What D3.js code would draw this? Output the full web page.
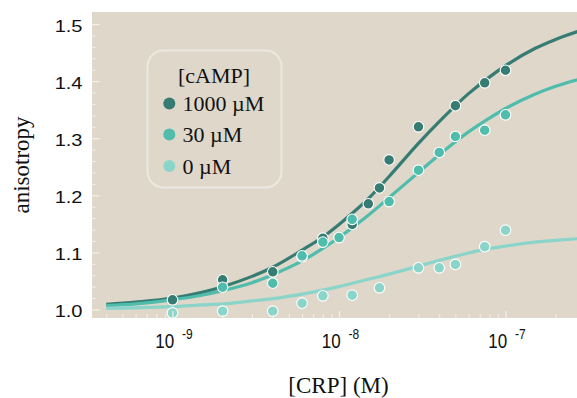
<!DOCTYPE html>
<html><head><meta charset="utf-8">
<script src="https://cdn.jsdelivr.net/npm/d3@7/dist/d3.min.js"></script>
<style>html,body{margin:0;padding:0;background:#fff;}svg{display:block;}
.sans{font-family:'Liberation Sans',Arial,sans-serif;}
.serif{font-family:'Liberation Serif','Times New Roman',serif;}
</style>
</head><body>
<script>
// ---- data ----
const seriesNames = ["1000 \u00b5M", "30 \u00b5M", "0 \u00b5M"];
const legendTitle = "[cAMP]";
const xTitle = "[CRP] (M)";
const yTitle = "anisotropy";
const xMajorTicks = [1e-9, 1e-8, 1e-7];
const xTickExponents = ["-9", "-8", "-7"];
const yTicks = [1.0, 1.1, 1.2, 1.3, 1.4, 1.5];
const yTickLabels = ["1.0", "1.1", "1.2", "1.3", "1.4", "1.5"];

const conc1000 = [1e-9, 2e-9, 4e-9, 6e-9, 8e-9, 1.2e-8, 1.5e-8, 1.75e-8, 2e-8, 3e-8, 5e-8, 7.5e-8, 1e-7];
const val1000  = [1.017, 1.052, 1.066, 1.092, 1.125, 1.149, 1.185, 1.213, 1.262, 1.320, 1.357, 1.397, 1.419];
const conc30   = [2e-9, 4e-9, 6e-9, 8e-9, 1e-8, 1.2e-8, 2e-8, 3e-8, 4e-8, 5e-8, 7.5e-8, 1e-7];
const val30    = [1.039, 1.046, 1.094, 1.118, 1.126, 1.158, 1.189, 1.244, 1.275, 1.303, 1.314, 1.341];
const conc0    = [1e-9, 2e-9, 4e-9, 6e-9, 8e-9, 1.2e-8, 1.75e-8, 3e-8, 4e-8, 5e-8, 7.5e-8, 1e-7];
const val0     = [0.994, 0.997, 0.997, 1.011, 1.024, 1.025, 1.038, 1.073, 1.073, 1.079, 1.110, 1.139];

// fitted curves
const fitConc = [4e-10, 6e-10, 1e-9, 1.5e-9, 2e-9, 3e-9, 4e-9, 6e-9, 8e-9, 1e-8, 1.5e-8, 2e-8, 3e-8, 4e-8, 6e-8, 8e-8, 1e-7, 1.5e-7, 2e-7, 3e-7];
const fit1000 = [1.009, 1.013, 1.020, 1.030, 1.040, 1.058, 1.074, 1.104, 1.127, 1.149, 1.194, 1.233, 1.291, 1.329, 1.378, 1.407, 1.427, 1.457, 1.473, 1.491];
const fit30   = [1.007, 1.010, 1.017, 1.025, 1.033, 1.047, 1.061, 1.085, 1.107, 1.126, 1.165, 1.196, 1.240, 1.271, 1.311, 1.335, 1.352, 1.377, 1.391, 1.406];
const fit0    = [1.002, 1.003, 1.005, 1.008, 1.010, 1.015, 1.019, 1.027, 1.034, 1.040, 1.053, 1.062, 1.076, 1.086, 1.099, 1.107, 1.111, 1.118, 1.121, 1.125];

const colors = ["#367c72", "#4fbcac", "#8ad4c9"];

// ---- layout ----
const W = 577, H = 398;
const P = {left: 92, right: 577, top: 12, bottom: 318};
const svg = d3.select("body").append("svg").attr("width", W).attr("height", H);
svg.append("rect").attr("width", W).attr("height", H).attr("fill", "#fff");

const x = d3.scaleLog().domain([1e-9, 1e-7]).range([172.5, 505.5]);
const y = d3.scaleLinear().domain([1.0, 1.5]).range([309.5, 24]);

svg.append("rect").attr("x", P.left).attr("y", P.top)
  .attr("width", P.right - P.left).attr("height", P.bottom - P.top).attr("fill", "#dfd8ca");

svg.append("defs").append("clipPath").attr("id", "clip")
  .append("rect").attr("x", P.left).attr("y", P.top)
  .attr("width", P.right - P.left).attr("height", P.bottom - P.top);

const curves = [
  {c: fitConc, v: fit1000, col: colors[0]},
  {c: fitConc, v: fit30, col: colors[1]},
  {c: fitConc, v: fit0, col: colors[2]}
];
const line = d3.line().curve(d3.curveMonotoneX).x(d => x(d[0])).y(d => y(d[1]));
const gl = svg.append("g").attr("clip-path", "url(#clip)");
curves.forEach(s => {
  gl.append("path").datum(s.c.map((c, i) => [c, s.v[i]]))
    .attr("d", line).attr("fill", "none").attr("stroke", s.col)
    .attr("stroke-width", 3.2).attr("stroke-linecap", "butt");
});

const pts = [
  {c: conc1000, v: val1000, col: colors[0]},
  {c: conc30, v: val30, col: colors[1]},
  {c: conc0, v: val0, col: colors[2]}
];
pts.forEach(s => {
  svg.append("g").selectAll("circle").data(s.c.map((c, i) => [c, s.v[i]])).join("circle")
    .attr("cx", d => x(d[0])).attr("cy", d => y(d[1])).attr("r", 5.3)
    .attr("fill", s.col).attr("stroke", "#fff").attr("stroke-width", 1.1);
});

// ---- axes (ticks inside, drawn over data) ----
const tickCol = "#f4f1eb";
const domainX = [x.invert(P.left), x.invert(P.right)];
const xs = d3.scaleLog().domain(domainX).range([P.left, P.right]);
const minor = xs.ticks().filter(t => {
  const l = Math.log10(t); return Math.abs(l - Math.round(l)) > 1e-6;
});
const gx = svg.append("g").attr("transform", `translate(0,${P.bottom})`);
gx.call(d3.axisBottom(xs).tickValues(xMajorTicks).tickSize(-7).tickFormat(""));
gx.call(g => g.select(".domain").remove());
gx.selectAll("line").attr("stroke", tickCol).attr("stroke-width", 1.2);
const gxm = svg.append("g").attr("transform", `translate(0,${P.bottom})`);
gxm.call(d3.axisBottom(xs).tickValues(minor).tickSize(-3.5).tickFormat(""));
gxm.call(g => g.select(".domain").remove());
gxm.selectAll("line").attr("stroke", tickCol).attr("stroke-width", 1);

const ys = y.copy();
const yMinor = d3.range(1.0, 1.5001, 0.02).map(v => +v.toFixed(2)).filter(v => !yTicks.some(t => Math.abs(t - v) < 1e-6));
const gy = svg.append("g").attr("transform", `translate(${P.left},0)`);
gy.call(d3.axisRight(ys).tickValues(yTicks).tickSize(7.5).tickFormat(""));
gy.call(g => g.select(".domain").remove());
gy.selectAll("line").attr("stroke", tickCol).attr("stroke-width", 1.2);
const gym = svg.append("g").attr("transform", `translate(${P.left},0)`);
gym.call(d3.axisRight(ys).tickValues(yMinor).tickSize(3.5).tickFormat(""));
gym.call(g => g.select(".domain").remove());
gym.selectAll("line").attr("stroke", tickCol).attr("stroke-width", 1);

// y tick labels
yTicks.forEach((t, i) => {
  svg.append("g").attr("transform", `translate(82.5,${y(t) + 7.7}) scale(1.18,1)`)
    .append("text").attr("class", "sans").attr("text-anchor", "end")
    .attr("font-size", 17).attr("fill", "#111").text(yTickLabels[i]);
});
// x tick labels
xMajorTicks.forEach((t, i) => {
  const g = svg.append("g").attr("transform", `translate(${x(t) + 1.5},348.3) scale(1,1.23)`);
  const tx = g.append("text").attr("class", "sans").attr("text-anchor", "middle")
    .attr("font-size", 17).attr("fill", "#111");
  tx.append("tspan").text("10");
  tx.append("tspan").attr("dx", 8).attr("dy", -7.5).attr("font-size", 12).text(xTickExponents[i]);
});

// axis titles
svg.append("text").attr("class", "serif").attr("x", 338.5).attr("y", 393).attr("text-anchor", "middle")
  .attr("font-size", 23).attr("fill", "#111").text(xTitle);
svg.append("text").attr("class", "serif").attr("transform", "translate(29,165) rotate(-90)").attr("text-anchor", "middle")
  .attr("font-size", 23).attr("fill", "#111").text(yTitle);

// legend
const lg = svg.append("g");
lg.append("rect").attr("x", 147.5).attr("y", 50.5).attr("width", 134).attr("height", 137)
  .attr("rx", 16).attr("fill", "none").attr("stroke", "#ece8e1").attr("stroke-width", 2);
lg.append("text").attr("class", "serif").attr("x", 214).attr("y", 82.5).attr("text-anchor", "middle")
  .attr("font-size", 22).attr("fill", "#111").text(legendTitle);
const ly = [103.5, 134.5, 166];
seriesNames.forEach((n, i) => {
  lg.append("circle").attr("cx", 169.3).attr("cy", ly[i]).attr("r", 6).attr("fill", colors[i]);
  lg.append("text").attr("class", "serif").attr("x", 182.5).attr("y", ly[i] + 7.5)
    .attr("font-size", 22).attr("fill", "#111").text(n);
});
</script>
</body></html>
